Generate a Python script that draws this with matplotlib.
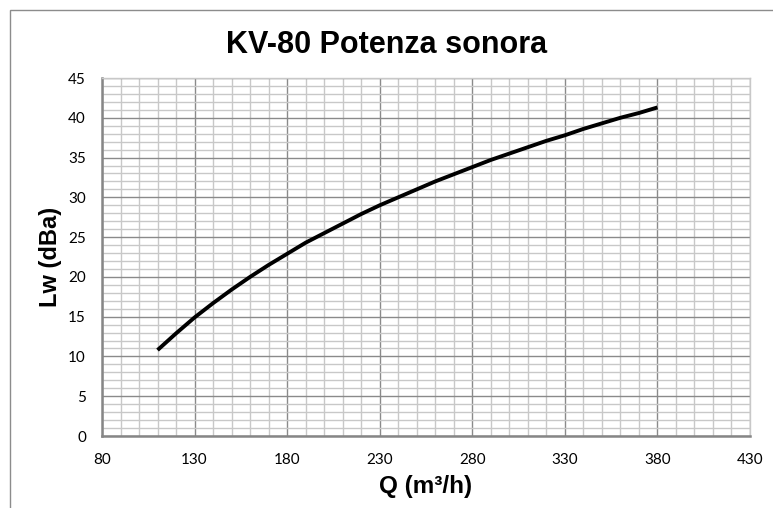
import matplotlib
matplotlib.use("Agg")
import matplotlib.pyplot as plt
from matplotlib.patches import Rectangle
from matplotlib.ticker import MultipleLocator

title = "KV-80 Potenza sonora"
xlabel = "Q (m³/h)"
ylabel = "Lw (dBa)"

q = [110, 120, 130, 140, 150, 160, 170, 180, 190, 200, 210, 220, 230, 240,
     250, 260, 270, 280, 290, 300, 310, 320, 330, 340, 350, 360, 370, 380]
lw = [10.8, 12.9, 14.9, 16.7, 18.4, 20.0, 21.5, 22.9, 24.3, 25.5, 26.7, 27.9,
      29.0, 30.0, 31.0, 32.0, 32.9, 33.8, 34.7, 35.5, 36.3, 37.1, 37.8, 38.6,
      39.3, 40.0, 40.6, 41.3]

xticks = [80, 130, 180, 230, 280, 330, 380, 430]
yticks = [0, 5, 10, 15, 20, 25, 30, 35, 40, 45]

W, H = 773, 508
fig = plt.figure(figsize=(W / 100, H / 100), dpi=100)

# chart outer border
fig.add_artist(Rectangle((9.5 / W, -0.1), 2.0, 1 - 10.5 / H + 0.1,
                         transform=fig.transFigure, fill=False,
                         edgecolor="#8c8c8c", linewidth=1.0))

ax = fig.add_axes([102 / W, (H - 436) / H, (750 - 102) / W, (436 - 78) / H])
ax.set_xlim(80, 430)
ax.set_ylim(0, 45)
ax.set_xticks(xticks)
ax.set_yticks(yticks)
ax.xaxis.set_minor_locator(MultipleLocator(10))
ax.yaxis.set_minor_locator(MultipleLocator(1))
ax.grid(which="minor", color="#c8c8c8", linewidth=1.0)
ax.grid(which="major", color="#8a8a8a", linewidth=1.0)
ax.set_axisbelow(True)
ax.tick_params(which="both", length=0)
ax.tick_params(axis="x", labelsize=11, pad=12)
ax.tick_params(axis="y", labelsize=11, pad=11.5)
for lab in ax.get_xticklabels() + ax.get_yticklabels():
    lab.set_family(["Lato", "DejaVu Sans"])

for s in ["top", "right"]:
    ax.spines[s].set_color("#c8c8c8")
    ax.spines[s].set_linewidth(1.0)
for s in ["left", "bottom"]:
    ax.spines[s].set_color("#868686")
    ax.spines[s].set_linewidth(1.8)

ax.plot(q, lw, color="black", linewidth=2.8, solid_capstyle="butt")

ax.set_xlabel(xlabel, fontsize=17.5, fontweight="bold",
              family=["Liberation Sans", "DejaVu Sans"], va="center")
ax.xaxis.set_label_coords(0.5, (436 - 487) / 358)
ax.set_ylabel(ylabel, fontsize=17, fontweight="bold",
              family=["Liberation Sans", "DejaVu Sans"], va="center")
ax.yaxis.set_label_coords((50 - 102) / 648, 0.5)
fig.text(0.5, 1 - 53 / H, title, ha="center", va="baseline", fontsize=22,
         fontweight="bold", family=["Liberation Sans", "DejaVu Sans"])

fig.savefig("out.png", dpi=100)
